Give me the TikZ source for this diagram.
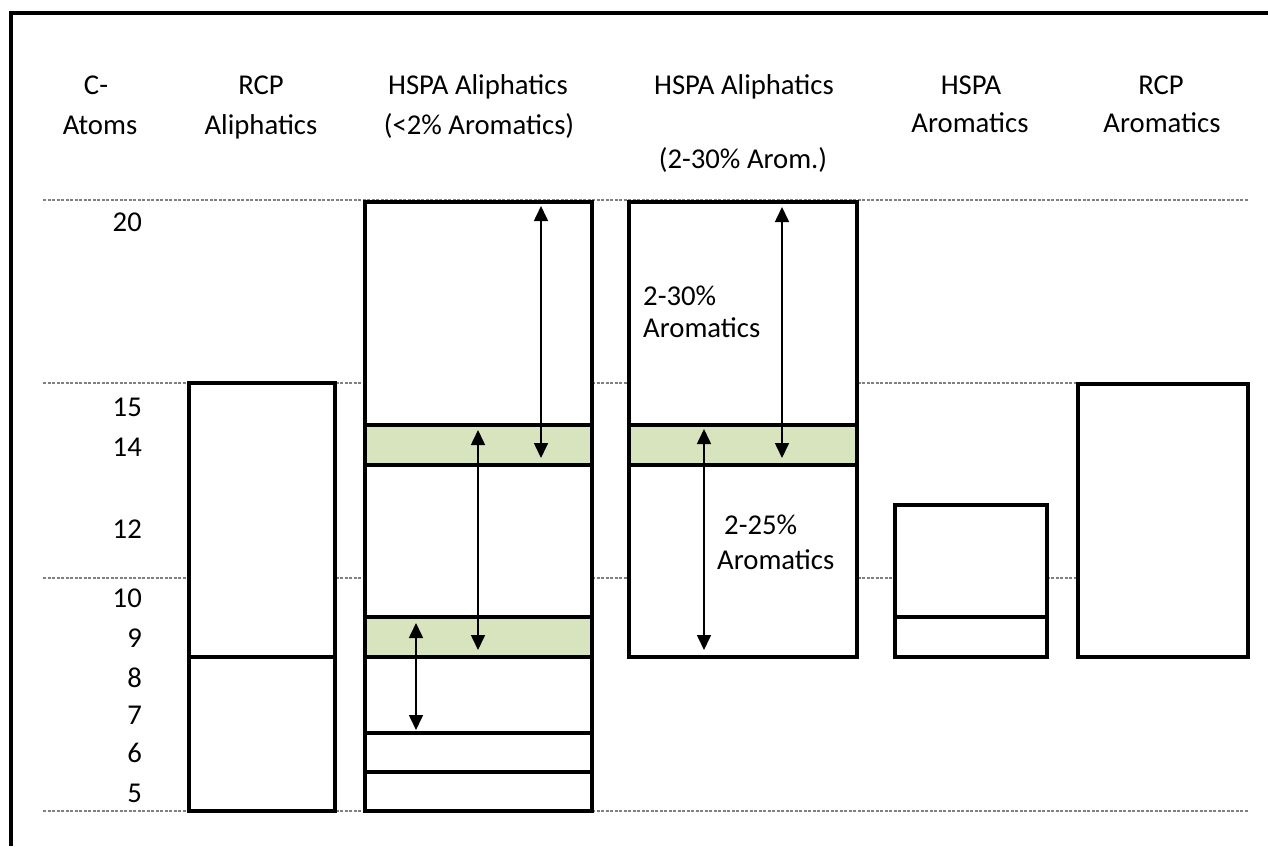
\documentclass[tikz,border=0pt]{standalone}
\usepackage{fontspec}
\setmainfont{Carlito}
\usetikzlibrary{arrows.meta}
\definecolor{bandgreen}{HTML}{D7E4BD}
\definecolor{dashgray}{HTML}{808080}
\begin{document}
\begin{tikzpicture}[x=1pt,y=-1pt,
  boxline/.style={line width=4pt,draw=black},
  dashline/.style={draw=dashgray,line width=1.2pt,dash pattern=on 3pt off 1.5pt},
  dblarrow/.style={line width=1.6pt,{Triangle[length=15pt,width=14pt]}-{Triangle[length=15pt,width=14pt]}},
  lbl/.style={font=\fontsize{28.7}{34}\selectfont,inner sep=0pt,anchor=base},
  num/.style={lbl,anchor=base east},
  intxt/.style={lbl,anchor=base west}]
\useasboundingbox (0,0) rectangle (1268,846);
\fill[white] (0,0) rectangle (1268,846);
% frame
\draw[line width=4.5pt] (11,846) -- (11,13) -- (1268,13);
% dashed guide lines
\foreach \yy in {200,383,578,811}
  \draw[dashline] (43,\yy) -- (1248,\yy);
% RCP Aliphatics
\filldraw[boxline,fill=white] (189,383) rectangle (335,811);
\draw[boxline] (189,657) -- (335,657);
% HSPA Aliphatics (<2%)
\fill[white] (365,202) rectangle (592,811);
\fill[bandgreen] (365,425) rectangle (592,465);
\fill[bandgreen] (365,617) rectangle (592,657);
\draw[boxline] (365,202) rectangle (592,811);
\foreach \yy in {425,465,617,657,733,772}
  \draw[boxline] (365,\yy) -- (592,\yy);
% HSPA Aliphatics (2-30%)
\fill[white] (629,202) rectangle (857,657);
\fill[bandgreen] (629,425) rectangle (857,465);
\draw[boxline] (629,202) rectangle (857,657);
\draw[boxline] (629,425) -- (857,425);
\draw[boxline] (629,465) -- (857,465);
% HSPA Aromatics
\filldraw[boxline,fill=white] (895,505) rectangle (1047,657);
\draw[boxline] (895,617) -- (1047,617);
% RCP Aromatics
\filldraw[boxline,fill=white] (1078,384) rectangle (1248,657);
% arrow end points
\coordinate (a1) at (541,206); \coordinate (a2) at (541,458);
\coordinate (b1) at (478,430); \coordinate (b2) at (478,650);
\coordinate (c1) at (416,623); \coordinate (c2) at (416,730);
\coordinate (d1) at (782,207); \coordinate (d2) at (782,458);
\coordinate (e1) at (704,429); \coordinate (e2) at (704,650);
\draw[dblarrow] (a1) -- (a2);
\draw[dblarrow] (b1) -- (b2);
\draw[dblarrow] (c1) -- (c2);
\draw[dblarrow] (d1) -- (d2);
\draw[dblarrow] (e1) -- (e2);
% headers
\node[lbl] (h1a) at (96,94) {C-};
\node[lbl] (h1b) at (100,134) {Atoms};
\node[lbl] (h2a) at (261,94) {RCP};
\node[lbl] (h2b) at (261,134) {Aliphatics};
\node[lbl] (h3a) at (478,94) {HSPA Aliphatics};
\node[lbl] (h3b) at (479,134) {(<2\% Aromatics)};
\node[lbl] (h4a) at (744,94) {HSPA Aliphatics};
\node[lbl] (h4b) at (743,168) {(2-30\% Arom.)};
\node[lbl] (h5a) at (971,94) {HSPA};
\node[lbl] (h5b) at (970,132) {Aromatics};
\node[lbl] (h6a) at (1161,94) {RCP};
\node[lbl] (h6b) at (1162,132) {Aromatics};
% C-atom numbers
\node[num] (n20) at (142,231) {20};
\node[num] (n15) at (142,416) {15};
\node[num] (n14) at (142,456) {14};
\node[num] (n12) at (142,538) {12};
\node[num] (n10) at (142,607) {10};
\node[num] (n9) at (142,647) {9};
\node[num] (n8) at (142,687) {8};
\node[num] (n7) at (142,724) {7};
\node[num] (n6) at (142,762) {6};
\node[num] (n5) at (142,802) {5};
% in-box labels
\node[intxt] (t1a) at (643,305) {2-30\%};
\node[intxt] (t1b) at (643,337) {Aromatics};
\node[intxt] (t2a) at (724,534) {2-25\%};
\node[intxt] (t2b) at (717,569) {Aromatics};
\end{tikzpicture}
\end{document}
